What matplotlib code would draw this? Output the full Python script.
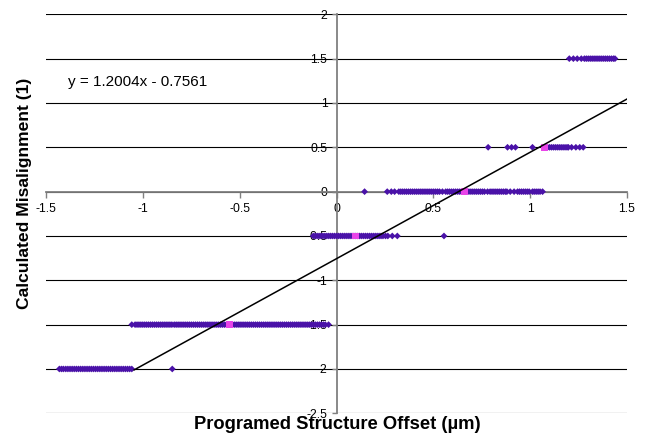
import matplotlib
matplotlib.use("Agg")
import matplotlib.pyplot as plt
import numpy as np

plt.rcParams['font.family'] = ['Liberation Sans', 'DejaVu Sans']

# ---- data ----
levels = [-2.0, -1.5, -0.5, 0.0, 0.5, 1.5]

x_lvl_m2 = [-1.431, -1.42, -1.41, -1.398, -1.387, -1.376, -1.365, -1.354, -1.343, -1.332,
            -1.321, -1.31, -1.299, -1.288, -1.277, -1.266, -1.255, -1.244, -1.233, -1.222,
            -1.211, -1.2, -1.189, -1.178, -1.167, -1.156, -1.145, -1.134, -1.123, -1.112,
            -1.101, -1.09, -1.079, -1.068, -1.057, -0.848]

x_lvl_m1_5 = [-1.057, -1.04, -1.03, -1.02, -1.01, -1.0, -0.99, -0.98, -0.97, -0.96, -0.95,
              -0.94, -0.93, -0.92, -0.91, -0.90, -0.89, -0.88, -0.87, -0.86, -0.85,
              -0.838, -0.828, -0.818, -0.808, -0.798, -0.788, -0.778, -0.768, -0.758, -0.748,
              -0.738, -0.728, -0.718, -0.708, -0.698, -0.688, -0.678, -0.668, -0.658, -0.648,
              -0.638, -0.628, -0.618, -0.608, -0.598, -0.588, -0.578, -0.568, -0.558, -0.548,
              -0.538, -0.528, -0.518, -0.508, -0.498, -0.488, -0.478, -0.468, -0.458, -0.448,
              -0.438, -0.428, -0.418, -0.408, -0.398, -0.388, -0.378, -0.368, -0.358, -0.348,
              -0.338, -0.328, -0.318, -0.308, -0.298, -0.288, -0.278, -0.268, -0.258, -0.248,
              -0.238, -0.228, -0.218, -0.208, -0.198, -0.188, -0.178, -0.168, -0.158, -0.148,
              -0.138, -0.128, -0.118, -0.108, -0.098, -0.088, -0.078, -0.068, -0.058, -0.041]

x_lvl_m0_5 = [-0.12, -0.11, -0.10, -0.09, -0.08, -0.07, -0.06, -0.05, -0.04, -0.03, -0.02,
              -0.01, 0.0, 0.01, 0.02, 0.03, 0.04, 0.05, 0.06, 0.07, 0.08, 0.09, 0.10, 0.11,
              0.12, 0.13, 0.14, 0.15, 0.16, 0.17, 0.18, 0.19, 0.20, 0.21, 0.22, 0.23, 0.24,
              0.253, 0.265, 0.288, 0.314, 0.555]

x_lvl_0 = [0.145, 0.262, 0.283, 0.300, 0.322, 0.332, 0.342, 0.352, 0.362, 0.372, 0.382,
           0.392, 0.402, 0.412, 0.422, 0.432, 0.442, 0.452, 0.462, 0.472, 0.482, 0.492,
           0.502, 0.512, 0.522, 0.532, 0.547, 0.564, 0.574, 0.584, 0.594, 0.604, 0.614,
           0.624, 0.634, 0.644, 0.654, 0.664, 0.674, 0.684, 0.694, 0.704, 0.714, 0.724,
           0.734, 0.744, 0.754, 0.764, 0.78, 0.793, 0.803, 0.813, 0.823, 0.833, 0.843,
           0.853, 0.863, 0.873, 0.88, 0.897, 0.917, 0.935, 0.945, 0.955, 0.965, 0.975,
           0.985, 0.995, 1.012, 1.021, 1.031, 1.041, 1.051, 1.064]

x_lvl_0_5 = [0.783, 0.883, 0.904, 0.924, 1.012, 1.09, 1.10, 1.11, 1.12, 1.13, 1.14, 1.15,
             1.16, 1.17, 1.18, 1.19, 1.197, 1.214, 1.236, 1.256, 1.274]

x_lvl_1_5 = [1.202, 1.223, 1.243, 1.264, 1.28, 1.29, 1.30, 1.31, 1.32, 1.33, 1.34, 1.35,
             1.36, 1.37, 1.38, 1.39, 1.40, 1.41, 1.42, 1.43, 1.438]

mean_x = [-0.552, 0.098, 0.659, 1.073]
mean_y = [-1.5, -0.5, 0.0, 0.5]

trend_slope = 1.2004
trend_intercept = -0.7561
trend_x_range = [-1.045, 1.5]

x_ticks = [-1.5, -1.0, -0.5, 0.0, 0.5, 1.0, 1.5]
x_tick_labels = ['-1.5', '-1', '-0.5', '0', '0.5', '1', '1.5']
y_ticks = [-2.5, -2.0, -1.5, -1.0, -0.5, 0.0, 0.5, 1.0, 1.5, 2.0]
y_tick_labels = ['-2.5', '-2', '-1.5', '-1', '-0.5', '0', '0.5', '1', '1.5', '2']

x_title = 'Programed Structure Offset (µm)'
y_title = 'Calculated Misalignment (1)'
eq_text = 'y = 1.2004x - 0.7561'

# ---- build series ----
groups = [x_lvl_m2, x_lvl_m1_5, x_lvl_m0_5, x_lvl_0, x_lvl_0_5, x_lvl_1_5]
all_x = np.concatenate([np.array(g) for g in groups])
all_y = np.concatenate([np.full(len(g), lv) for g, lv in zip(groups, levels)])

fig = plt.figure(figsize=(6.5, 4.37), dpi=100)
ax = fig.add_axes([46/650, 1 - 413.3/437, (627 - 46)/650, (413.3 - 14.3)/437])

ax.set_xlim(-1.5, 1.5)
ax.set_ylim(-2.5, 2.0)

for yv in y_ticks:
    ax.axhline(yv, color='black', lw=0.8, zorder=1)

ax.scatter(all_x, all_y, marker='D', s=12, color='#4A12A8', edgecolors='none', zorder=3,
           clip_on=False)
ax.scatter(mean_x, mean_y, marker='s', s=24, color='#E844E8', edgecolors='none', zorder=4)

tx = np.array(trend_x_range)
ax.plot(tx, trend_slope * tx + trend_intercept, color='black', lw=1.1, zorder=5)

ax.spines['left'].set_position(('data', 0))
ax.spines['bottom'].set_position(('data', 0))
ax.spines['top'].set_visible(False)
ax.spines['right'].set_visible(False)
for s in ('left', 'bottom'):
    ax.spines[s].set_color('#808080')
    ax.spines[s].set_linewidth(1.3)
    ax.spines[s].set_zorder(2)

ax.set_xticks(x_ticks)
ax.set_xticklabels(x_tick_labels)
ax.set_yticks(y_ticks)
ax.set_yticklabels(y_tick_labels)
ax.tick_params(axis='x', direction='out', length=4, width=1, color='#808080', pad=4,
               labelsize=8.8, labelcolor='black')
ax.tick_params(axis='y', direction='out', length=3.5, width=1, color='#808080', pad=3,
               labelsize=8.8, labelcolor='black')

ax.text(0.038, 0.830, eq_text, transform=ax.transAxes, fontsize=11, va='center', ha='left')

fig.text(0.519, 0.028, x_title, fontsize=13.2, fontweight='bold', ha='center', va='center')
fig.text(0.038, 0.558, y_title, fontsize=12.6, fontweight='bold', ha='center', va='center',
         rotation=90)

fig.savefig('out.png', dpi=100)
